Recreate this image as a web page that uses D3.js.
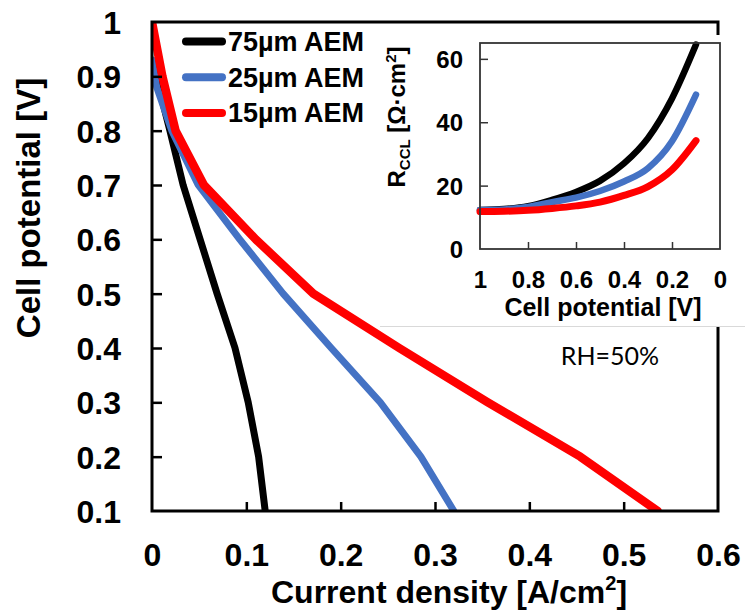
<!DOCTYPE html>
<html>
<head>
<meta charset="utf-8">
<script src="https://cdn.jsdelivr.net/npm/d3@7"></script>
<style>
  html, body { margin: 0; padding: 0; background: #fff; }
  svg { display: block; }
  text { font-family: "Liberation Sans", Arial, sans-serif; font-weight: bold; fill: #000; }
</style>
</head>
<body>
<svg id="chart" width="745" height="614"></svg>
<script>
// ---------- data (main chart: polarization curves) ----------
const seriesNames = ["75µm AEM", "25µm AEM", "15µm AEM"];
const seriesColors = ["#000000", "#4472C4", "#FF0000"];

const voltage75 = [0.93, 0.8, 0.7, 0.6, 0.5, 0.4, 0.3, 0.2, 0.1];
const current75 = [0, 0.019, 0.033, 0.051, 0.069, 0.088, 0.102, 0.113, 0.12];

const voltage25 = [0.93, 0.88, 0.8, 0.7, 0.6, 0.5, 0.4, 0.3, 0.2, 0.1];
const current25 = [0, 0.005, 0.021, 0.049, 0.093, 0.139, 0.19, 0.242, 0.285, 0.32];

const voltage15 = [1.0, 0.9, 0.8, 0.7, 0.6, 0.5, 0.4, 0.3, 0.2, 0.1];
const current15 = [0, 0.011, 0.025, 0.055, 0.11, 0.171, 0.262, 0.356, 0.454, 0.536];

const xTicks = [0, 0.1, 0.2, 0.3, 0.4, 0.5, 0.6];
const yTicks = [0.1, 0.2, 0.3, 0.4, 0.5, 0.6, 0.7, 0.8, 0.9, 1];

// ---------- data (inset: R_CCL vs cell potential) ----------
const insetPotential = [1, 0.9, 0.8, 0.7, 0.6, 0.5, 0.4, 0.3, 0.2, 0.1];
const insetR75 = [12.3, 12.6, 13.5, 15.5, 18.0, 21.5, 27.0, 35.0, 47.5, 64.5];
const insetR25 = [12.3, 12.5, 13.3, 14.8, 16.2, 18.3, 21.3, 25.5, 34.0, 48.7];
const insetR15 = [11.8, 11.9, 12.2, 12.8, 13.6, 14.8, 16.9, 19.7, 25.0, 34.2];
const insetXTicks = [1, 0.8, 0.6, 0.4, 0.2, 0];
const insetYTicks = [0, 20, 40, 60];

// ---------- layout ----------
const svg = d3.select("#chart");
svg.append("rect").attr("width", 745).attr("height", 614).attr("fill", "#fff");

const M = { left: 152, right: 718, top: 22, bottom: 511 };
const x = d3.scaleLinear().domain([0, 0.6]).range([M.left, M.right]);
const y = d3.scaleLinear().domain([0.1, 1]).range([M.bottom, M.top]);

svg.append("clipPath").attr("id", "plotclip")
  .append("rect").attr("x", M.left).attr("y", M.top)
  .attr("width", M.right - M.left).attr("height", M.bottom - M.top);

const mainSeries = [
  { v: voltage75, i: current75, color: seriesColors[0], w: 7 },
  { v: voltage25, i: current25, color: seriesColors[1], w: 7 },
  { v: voltage15, i: current15, color: seriesColors[2], w: 8.5 }
];

const line = d3.line().x(d => x(d[0])).y(d => y(d[1]));
const gLines = svg.append("g").attr("clip-path", "url(#plotclip)");
mainSeries.forEach(s => {
  gLines.append("path")
    .datum(s.i.map((c, k) => [c, s.v[k]]))
    .attr("d", line)
    .attr("fill", "none")
    .attr("stroke", s.color)
    .attr("stroke-width", s.w)
    .attr("stroke-linejoin", "round")
    .attr("stroke-linecap", "round");
});

// axes (inside ticks)
const axisW = 3;
const xAxis = d3.axisBottom(x).tickValues(xTicks).tickSize(-9).tickFormat(d3.format("~g"));
const gx = svg.append("g").attr("transform", `translate(0,${M.bottom})`).call(xAxis);
gx.select(".domain").remove();
gx.selectAll(".tick line").attr("stroke", "#000").attr("stroke-width", 2.5);
gx.selectAll(".tick text").attr("y", 55).attr("dy", null)
  .style("font-size", "32px").style("font-family", "Liberation Sans, Arial").style("font-weight", "bold");
gx.selectAll(".tick").filter(d => d === 0 || d === 0.6).select("line").remove();

const yAxis = d3.axisLeft(y).tickValues(yTicks).tickSize(-10).tickFormat(d3.format("~g"));
const gy = svg.append("g").attr("transform", `translate(${M.left},0)`).call(yAxis);
gy.select(".domain").remove();
gy.selectAll(".tick line").attr("stroke", "#000").attr("stroke-width", 2.5);
gy.selectAll(".tick text").attr("x", -31).attr("dy", "0.36em")
  .style("font-size", "32px").style("font-family", "Liberation Sans, Arial").style("font-weight", "bold");
gy.selectAll(".tick").filter(d => d === 0.1 || d === 1).select("line").remove();

// frame
svg.append("path")
  .attr("d", `M${M.left},${M.top}H${M.right}V${M.bottom}H${M.left}Z`)
  .attr("fill", "none").attr("stroke", "#000").attr("stroke-width", axisW);

// axis titles
const xt = svg.append("text").attr("x", 449).attr("y", 603).attr("text-anchor", "middle")
  .style("font-size", "32px");
xt.append("tspan").text("Current density [A/cm");
xt.append("tspan").text("2").style("font-size", "20px").attr("dy", -13);
xt.append("tspan").text("]").attr("dy", 13);

svg.append("text").attr("transform", "translate(40,208) rotate(-90)")
  .attr("text-anchor", "middle").style("font-size", "33px")
  .text("Cell potential [V]");

// legend
const legX1 = 186, legX2 = 222;
seriesNames.forEach((name, k) => {
  const ly = 41.5 + k * 35.7;
  svg.append("line").attr("x1", legX1).attr("x2", legX2).attr("y1", ly).attr("y2", ly)
    .attr("stroke", seriesColors[k]).attr("stroke-width", 8).attr("stroke-linecap", "round");
  svg.append("text").attr("x", 228).attr("y", ly + 9.5).style("font-size", "27px").text(name);
});

// ---------- inset (pasted picture with white background) ----------
svg.append("rect").attr("x", 380).attr("y", 35).attr("width", 365).attr("height", 291).attr("fill", "#fff");
svg.append("line").attr("x1", 380).attr("x2", 745).attr("y1", 326.5).attr("y2", 326.5)
  .attr("stroke", "#d9d9d9").attr("stroke-width", 1);

const I = { left: 480, right: 720, top: 43, bottom: 249 };
const ix = d3.scaleLinear().domain([1, 0]).range([I.left, I.right]);
const iy = d3.scaleLinear().domain([0, 65]).range([I.bottom, I.top]);

const insetSeries = [
  { r: insetR75, color: seriesColors[0], w: 6.5 },
  { r: insetR25, color: seriesColors[1], w: 6.5 },
  { r: insetR15, color: seriesColors[2], w: 7 }
];
const iline = d3.line().x(d => ix(d[0])).y(d => iy(d[1])).curve(d3.curveMonotoneX);
const gIn = svg.append("g");
insetSeries.forEach(s => {
  gIn.append("path")
    .datum(insetPotential.map((p, k) => [p, s.r[k]]))
    .attr("d", iline)
    .attr("fill", "none").attr("stroke", s.color).attr("stroke-width", s.w)
    .attr("stroke-linejoin", "round").attr("stroke-linecap", "round");
});

const ixAxis = d3.axisBottom(ix).tickValues(insetXTicks).tickSize(-7).tickFormat(d3.format("~g"));
const gix = svg.append("g").attr("transform", `translate(0,${I.bottom})`).call(ixAxis);
gix.select(".domain").remove();
gix.selectAll(".tick line").attr("stroke", "#333").attr("stroke-width", 1.5);
gix.selectAll(".tick").filter(d => d === 1 || d === 0).select("line").remove();
gix.selectAll(".tick text").attr("y", 39).attr("dy", null)
  .style("font-size", "24px").style("font-family", "Liberation Sans, Arial").style("font-weight", "bold");

const iyAxis = d3.axisLeft(iy).tickValues(insetYTicks).tickSize(-8).tickFormat(d3.format("~g"));
const giy = svg.append("g").attr("transform", `translate(${I.left},0)`).call(iyAxis);
giy.select(".domain").remove();
giy.selectAll(".tick line").attr("stroke", "#333").attr("stroke-width", 1.5);
giy.selectAll(".tick").filter(d => d === 0).select("line").remove();
giy.selectAll(".tick text").attr("x", -17).attr("dy", "0.36em")
  .style("font-size", "24px").style("font-family", "Liberation Sans, Arial").style("font-weight", "bold");

svg.append("rect").attr("x", I.left).attr("y", I.top)
  .attr("width", I.right - I.left).attr("height", I.bottom - I.top)
  .attr("fill", "none").attr("stroke", "#333").attr("stroke-width", 1.8);

svg.append("text").attr("x", 603).attr("y", 316).attr("text-anchor", "middle")
  .style("font-size", "25px").text("Cell potential [V]");

const yt = svg.append("text").attr("transform", "translate(405,117) rotate(-90)")
  .attr("text-anchor", "middle").style("font-size", "24px");
yt.append("tspan").text("R");
yt.append("tspan").text("CCL").style("font-size", "15px").attr("dy", 5);
yt.append("tspan").text(" [Ω·cm").attr("dy", -5);
yt.append("tspan").text("2").style("font-size", "15px").attr("dy", -9);
yt.append("tspan").text("]").attr("dy", 9);

svg.append("text").attr("x", 610).attr("y", 365).attr("text-anchor", "middle")
  .style("font-family", "Lato, 'Open Sans', sans-serif").style("font-weight", "normal")
  .style("font-size", "25px").text("RH=50%");
</script>
</body>
</html>
